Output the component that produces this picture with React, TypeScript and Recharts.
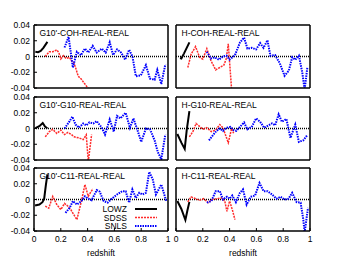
import React from 'react';
import { LineChart, Line, XAxis, YAxis, ReferenceLine } from 'recharts';

const xTicks = [0, 0.2, 0.4, 0.6, 0.8, 1];
const yTicks = [-0.04, -0.02, 0, 0.02, 0.04];
const seriesNames = ['LOWZ', 'SDSS', 'SNLS'];
const panelTitles = [
  "G10'-COH-REAL-REAL",
  'H-COH-REAL-REAL',
  "G10'-G10-REAL-REAL",
  'H-G10-REAL-REAL',
  "G10'-C11-REAL-REAL",
  'H-C11-REAL-REAL',
];

// Panel A: G10'-COH
const A_lowz = [[0.01,0.006],[0.03,0.0055],[0.05,0.007],[0.07,0.011],[0.09,0.016],[0.1,0.0185]];
const A_sdss = [[0.083,0],[0.114,0.006],[0.14,0.006],[0.17,0.0084],[0.185,0.005],[0.2,-0.003],[0.22,0.001],[0.24,-0.0025],[0.265,-0.001],[0.28,-0.0055],[0.296,-0.0076],[0.31,-0.014],[0.33,-0.025],[0.354,-0.029],[0.38,-0.035],[0.41,-0.042]];
const A_snls = [[0.228,0.0114],[0.258,0.025],[0.29,-0.014],[0.32,0.006],[0.35,0.0015],[0.38,0.0102],[0.405,0.005],[0.438,0.0135],[0.468,0.005],[0.506,0.01],[0.535,0.005],[0.565,0.018],[0.59,0.002],[0.62,0.009],[0.65,0.005],[0.68,-0.004],[0.71,0.0085],[0.735,0],[0.76,-0.025],[0.797,-0.024],[0.835,-0.011],[0.865,-0.028],[0.9,-0.0295],[0.92,-0.017],[0.95,-0.035],[0.98,-0.01]];

// Panel B: H-COH
const B_lowz = [[0.03,-0.002],[0.04,-0.0025],[0.06,0.004],[0.08,0.011],[0.1,0.018]];
const B_sdss = [[0.088,-0.014],[0.113,0.003],[0.146,0.0126],[0.176,-0.001],[0.2,-0.0034],[0.23,0.01],[0.26,-0.005],[0.296,-0.017],[0.327,-0.014],[0.357,-0.011],[0.375,-0.003],[0.39,0.016],[0.415,-0.042]];
const B_snls = [[0.23,0.006],[0.26,-0.0025],[0.29,-0.001],[0.32,-0.004],[0.35,0],[0.377,0.001],[0.4,-0.004],[0.44,0.0017],[0.477,0.0177],[0.508,0.024],[0.533,0.01],[0.565,0.011],[0.598,0.009],[0.628,0.017],[0.653,0.011],[0.683,0.0206],[0.704,0.001],[0.74,0.0017],[0.774,-0.0084],[0.81,-0.0244],[0.842,-0.018],[0.867,-0.001],[0.89,-0.004],[0.917,0.001],[0.942,-0.02],[0.96,-0.042],[0.98,-0.014]];

// Panel C: G10'-G10
const C_lowz = [[0.01,0.0005],[0.04,0.003],[0.065,0.007],[0.08,0.003],[0.1,0]];
const C_sdss = [[0.084,-0.0106],[0.114,-0.004],[0.14,-0.001],[0.17,-0.0064],[0.2,-0.002],[0.228,-0.0077],[0.253,-0.005],[0.28,-0.0077],[0.3,-0.0106],[0.337,-0.012],[0.367,-0.014],[0.39,-0.008],[0.405,-0.042],[0.43,-0.0077]];
const C_snls = [[0.228,0],[0.266,0.0094],[0.286,0.015],[0.31,0.005],[0.337,0.001],[0.367,0.0064],[0.39,0.004],[0.413,0.0077],[0.443,0.0064],[0.468,0.0094],[0.506,0.001],[0.53,-0.0077],[0.565,0.0115],[0.595,-0.004],[0.62,0.016],[0.645,0.0128],[0.684,0.02],[0.716,0.001],[0.742,0.0128],[0.772,-0.002],[0.8,-0.017],[0.835,0],[0.866,-0.001],[0.9,-0.015],[0.924,-0.03],[0.95,-0.039],[0.98,-0.0077]];

// Panel D: H-G10
const D_lowz = [[0.01,-0.007],[0.04,-0.018],[0.065,-0.026],[0.08,-0.002],[0.1,0.022]];
const D_sdss = [[0.1,-0.0106],[0.126,-0.004],[0.15,0.0064],[0.18,0.002],[0.2,-0.001],[0.23,0.001],[0.264,-0.004],[0.296,-0.002],[0.327,0.005],[0.35,0.001],[0.39,-0.018],[0.415,0],[0.43,-0.006]];
const D_snls = [[0.246,-0.015],[0.276,-0.0085],[0.3,-0.0034],[0.327,0],[0.35,-0.003],[0.377,0.001],[0.407,0.002],[0.43,-0.002],[0.45,-0.003],[0.477,0.002],[0.508,0.0077],[0.533,-0.001],[0.565,0.002],[0.598,0.0128],[0.628,0.0085],[0.658,0.001],[0.69,0.004],[0.716,0.0064],[0.74,0.004],[0.766,0.018],[0.79,0.0085],[0.824,0.012],[0.854,-0.012],[0.89,0.005],[0.917,-0.017],[0.95,-0.015],[0.98,-0.0085]];

// Panel E: G10'-C11
const E_lowz = [[0.008,-0.0077],[0.04,-0.0064],[0.063,-0.0034],[0.076,0.001],[0.089,0.019],[0.1,0.032]];
const E_sdss = [[0.084,-0.0085],[0.11,-0.011],[0.14,0.004],[0.17,-0.0064],[0.2,-0.0128],[0.228,-0.005],[0.253,-0.0085],[0.275,-0.013],[0.296,-0.019],[0.32,-0.0256],[0.354,-0.002],[0.38,0.019],[0.405,0.004],[0.42,0.0085],[0.44,0.0136]];
const E_snls = [[0.235,-0.017],[0.266,-0.0106],[0.29,-0.002],[0.32,-0.0064],[0.354,-0.002],[0.38,0.004],[0.405,0.001],[0.43,-0.001],[0.468,0.012],[0.49,0.01],[0.52,-0.002],[0.55,-0.004],[0.58,0.001],[0.62,0.0064],[0.658,0.0106],[0.684,0.0106],[0.71,-0.004],[0.734,0.0128],[0.76,0.002],[0.785,0.0085],[0.81,0.0064],[0.835,0.0085],[0.86,0.035],[0.886,0.0256],[0.91,0.0064],[0.95,0.019],[0.987,-0.002]];

// Panel F: H-C11
const F_lowz = [[0.01,-0.002],[0.04,-0.012],[0.07,-0.026],[0.085,-0.014],[0.1,-0.003]];
const F_sdss = [[0.088,-0.003],[0.113,0.0034],[0.146,0.001],[0.176,-0.001],[0.206,0.001],[0.24,-0.004],[0.27,0],[0.306,0.001],[0.34,0.002],[0.364,-0.002],[0.38,-0.015],[0.4,-0.002],[0.42,-0.0128],[0.44,-0.0256]];
const F_snls = [[0.23,-0.004],[0.264,-0.002],[0.296,0.0106],[0.327,0.0106],[0.35,0],[0.38,0.0034],[0.4,0.001],[0.42,0.005],[0.447,-0.0034],[0.477,0.0085],[0.5,0.0128],[0.527,-0.0064],[0.557,0.0034],[0.59,0.005],[0.623,0.021],[0.653,0.0106],[0.683,0.0106],[0.716,0.0064],[0.75,0.001],[0.78,0.0034],[0.81,0],[0.84,0.001],[0.867,0.0085],[0.9,-0.0034],[0.93,-0.004],[0.95,-0.0256],[0.96,-0.042],[0.985,-0.0106]];

const FONT = "'Liberation Sans', Arial, sans-serif";
const W = 344, H = 258;
const PW = 134, PH = 63;
const YW = 30, RW = 5, TH = 5, BH = 18;
const COLORS = { lowz: '#000000', sdss: '#ff2a2a', snls: '#0000ff' };
const STYLES = {
  lowz: { strokeWidth: 2, dash: undefined as string | undefined },
  sdss: { strokeWidth: 1.5, dash: '2 1' },
  snls: { strokeWidth: 2, dash: '1.5 1' },
};

const toPts = (a: number[][]) => a.map(([x, y]) => ({ x, y }));

const colLeft = [34, 176];
const rowTop = [25, 97, 168];

const panels = [
  { t: 0, lowz: A_lowz, sdss: A_sdss, snls: A_snls, c: 0, r: 0 },
  { t: 1, lowz: B_lowz, sdss: B_sdss, snls: B_snls, c: 1, r: 0 },
  { t: 2, lowz: C_lowz, sdss: C_sdss, snls: C_snls, c: 0, r: 1 },
  { t: 3, lowz: D_lowz, sdss: D_sdss, snls: D_snls, c: 1, r: 1 },
  { t: 4, lowz: E_lowz, sdss: E_sdss, snls: E_snls, c: 0, r: 2 },
  { t: 5, lowz: F_lowz, sdss: F_sdss, snls: F_snls, c: 1, r: 2 },
];

const fmt = (v: number) => (v === 0 ? '0' : String(v));

function Panel({ p }: { p: any }) {
  const left = colLeft[p.c];
  const top = rowTop[p.r];
  const showY = p.c === 0;
  const showX = p.r === 2;
  const margin = {
    left: left - YW,
    right: W - (left + PW) - RW,
    top: top - TH,
    bottom: H - (top + PH) - BH,
  };
  const axisLine = { stroke: '#000', strokeWidth: 1.5 };
  const tickLine = { stroke: '#000', strokeWidth: 1 };
  const tickStyle = { fontSize: 8.5, fill: '#000', fontFamily: FONT };
  const series: [string, number[][]][] = [
    ['lowz', p.lowz],
    ['sdss', p.sdss],
    ['snls', p.snls],
  ];
  return (
    <div style={{ position: 'absolute', left: 0, top: 0 }}>
      <LineChart width={W} height={H} margin={margin}>
        <XAxis
          xAxisId="b"
          type="number"
          dataKey="x"
          domain={[0, 1]}
          ticks={xTicks}
          orientation="bottom"
          height={BH}
          tickSize={-3}
          tickMargin={8}
          tick={showX ? tickStyle : false}
          tickFormatter={fmt}
          axisLine={axisLine}
          tickLine={tickLine}
          allowDataOverflow
          interval={0}
          label={showX ? { value: 'redshift', position: 'bottom', offset: 1, fontSize: 8.5, fill: '#000', fontFamily: FONT } : undefined}
        />
        <XAxis
          xAxisId="t"
          type="number"
          domain={[0, 1]}
          ticks={xTicks}
          orientation="top"
          height={TH}
          tickSize={-3}
          tick={false}
          axisLine={axisLine}
          tickLine={tickLine}
          interval={0}
        />
        <YAxis
          yAxisId="l"
          type="number"
          domain={[-0.04, 0.04]}
          ticks={yTicks}
          width={YW}
          tickSize={-3}
          tickMargin={7}
          tick={showY ? tickStyle : false}
          tickFormatter={fmt}
          axisLine={axisLine}
          tickLine={tickLine}
          allowDataOverflow
          interval={0}
        />
        <YAxis
          yAxisId="r"
          orientation="right"
          type="number"
          domain={[-0.04, 0.04]}
          ticks={yTicks}
          width={RW}
          tickSize={-3}
          tick={false}
          axisLine={axisLine}
          tickLine={tickLine}
          interval={0}
        />
        <ReferenceLine xAxisId="b" yAxisId="l" y={0} stroke="#000" strokeWidth={1.5} strokeDasharray="1 1" />
        {series.map(([k, d]) => (
          <Line
            key={k}
            xAxisId="b"
            yAxisId="l"
            data={toPts(d)}
            dataKey="y"
            type="linear"
            stroke={(COLORS as any)[k]}
            strokeWidth={(STYLES as any)[k].strokeWidth}
            strokeDasharray={(STYLES as any)[k].dash}
            dot={false}
            activeDot={false}
            isAnimationActive={false}
          />
        ))}
      </LineChart>
    </div>
  );
}

export default function App() {
  const legendKeys = ['lowz', 'sdss', 'snls'];
  return (
    <div style={{ position: 'fixed', left: 0, top: 0, width: W, height: H, background: '#fff', fontFamily: FONT }}>
      {panels.map((p, i) => (
        <Panel key={i} p={p} />
      ))}
      <svg width={W} height={H} style={{ position: 'absolute', left: 0, top: 0, pointerEvents: 'none' }}>
        {panels.map((p, i) => (
          <text
            key={i}
            x={colLeft[p.c] + 5.5}
            y={rowTop[p.r] + 11}
            fontSize={8.5}
            fontFamily={FONT}
            fill="#000"
          >
            {panelTitles[p.t]}
          </text>
        ))}
        {legendKeys.map((k, i) => {
          const cy = 209 + i * 8.5;
          return (
            <g key={k}>
              <text x={127} y={cy + 3} textAnchor="end" fontSize={8.5} fontFamily={FONT} fill="#000">
                {seriesNames[i]}
              </text>
              <line
                x1={135}
                x2={157}
                y1={cy}
                y2={cy}
                stroke={(COLORS as any)[k]}
                strokeWidth={(STYLES as any)[k].strokeWidth}
                strokeDasharray={(STYLES as any)[k].dash}
              />
            </g>
          );
        })}
      </svg>
    </div>
  );
}
